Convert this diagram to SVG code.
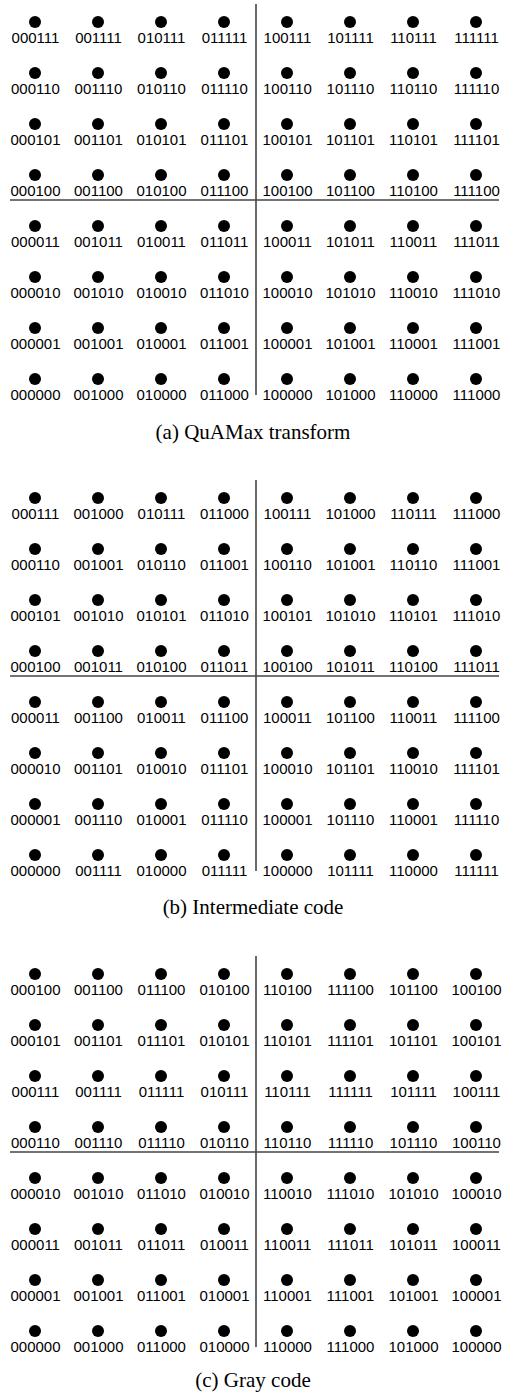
<svg xmlns="http://www.w3.org/2000/svg" width="505" height="1396" viewBox="0 0 505 1396">
<style>
.bg{fill:#fff}
circle{fill:#000}
.lbl{font-family:"Liberation Sans",Arial,sans-serif;font-size:15px;fill:#000;text-anchor:middle}
.cap{font-family:"Liberation Serif","Times New Roman",serif;font-size:21px;fill:#000;text-anchor:middle}
.ax{stroke:#444;stroke-width:1.6;fill:none}
</style>
<rect class="bg" x="0" y="0" width="505" height="1396"/>
<g id="panel-a">
<g id="axes-a" class="connectors"><line class="ax" x1="256" y1="4" x2="256" y2="395"/><line class="ax" x1="10" y1="200" x2="499" y2="200"/></g>
<g id="a-r0c0"><circle cx="35" cy="22" r="6"/><text class="lbl" x="35.5" y="43">000111</text></g>
<g id="a-r0c1"><circle cx="98" cy="22" r="6"/><text class="lbl" x="98.5" y="43">001111</text></g>
<g id="a-r0c2"><circle cx="161" cy="22" r="6"/><text class="lbl" x="161.5" y="43">010111</text></g>
<g id="a-r0c3"><circle cx="224" cy="22" r="6"/><text class="lbl" x="224.5" y="43">011111</text></g>
<g id="a-r0c4"><circle cx="287" cy="22" r="6"/><text class="lbl" x="287.5" y="43">100111</text></g>
<g id="a-r0c5"><circle cx="350" cy="22" r="6"/><text class="lbl" x="350.5" y="43">101111</text></g>
<g id="a-r0c6"><circle cx="413" cy="22" r="6"/><text class="lbl" x="413.5" y="43">110111</text></g>
<g id="a-r0c7"><circle cx="476" cy="22" r="6"/><text class="lbl" x="476.5" y="43">111111</text></g>
<g id="a-r1c0"><circle cx="35" cy="73" r="6"/><text class="lbl" x="35.5" y="94">000110</text></g>
<g id="a-r1c1"><circle cx="98" cy="73" r="6"/><text class="lbl" x="98.5" y="94">001110</text></g>
<g id="a-r1c2"><circle cx="161" cy="73" r="6"/><text class="lbl" x="161.5" y="94">010110</text></g>
<g id="a-r1c3"><circle cx="224" cy="73" r="6"/><text class="lbl" x="224.5" y="94">011110</text></g>
<g id="a-r1c4"><circle cx="287" cy="73" r="6"/><text class="lbl" x="287.5" y="94">100110</text></g>
<g id="a-r1c5"><circle cx="350" cy="73" r="6"/><text class="lbl" x="350.5" y="94">101110</text></g>
<g id="a-r1c6"><circle cx="413" cy="73" r="6"/><text class="lbl" x="413.5" y="94">110110</text></g>
<g id="a-r1c7"><circle cx="476" cy="73" r="6"/><text class="lbl" x="476.5" y="94">111110</text></g>
<g id="a-r2c0"><circle cx="35" cy="124" r="6"/><text class="lbl" x="35.5" y="145">000101</text></g>
<g id="a-r2c1"><circle cx="98" cy="124" r="6"/><text class="lbl" x="98.5" y="145">001101</text></g>
<g id="a-r2c2"><circle cx="161" cy="124" r="6"/><text class="lbl" x="161.5" y="145">010101</text></g>
<g id="a-r2c3"><circle cx="224" cy="124" r="6"/><text class="lbl" x="224.5" y="145">011101</text></g>
<g id="a-r2c4"><circle cx="287" cy="124" r="6"/><text class="lbl" x="287.5" y="145">100101</text></g>
<g id="a-r2c5"><circle cx="350" cy="124" r="6"/><text class="lbl" x="350.5" y="145">101101</text></g>
<g id="a-r2c6"><circle cx="413" cy="124" r="6"/><text class="lbl" x="413.5" y="145">110101</text></g>
<g id="a-r2c7"><circle cx="476" cy="124" r="6"/><text class="lbl" x="476.5" y="145">111101</text></g>
<g id="a-r3c0"><circle cx="35" cy="175" r="6"/><text class="lbl" x="35.5" y="196">000100</text></g>
<g id="a-r3c1"><circle cx="98" cy="175" r="6"/><text class="lbl" x="98.5" y="196">001100</text></g>
<g id="a-r3c2"><circle cx="161" cy="175" r="6"/><text class="lbl" x="161.5" y="196">010100</text></g>
<g id="a-r3c3"><circle cx="224" cy="175" r="6"/><text class="lbl" x="224.5" y="196">011100</text></g>
<g id="a-r3c4"><circle cx="287" cy="175" r="6"/><text class="lbl" x="287.5" y="196">100100</text></g>
<g id="a-r3c5"><circle cx="350" cy="175" r="6"/><text class="lbl" x="350.5" y="196">101100</text></g>
<g id="a-r3c6"><circle cx="413" cy="175" r="6"/><text class="lbl" x="413.5" y="196">110100</text></g>
<g id="a-r3c7"><circle cx="476" cy="175" r="6"/><text class="lbl" x="476.5" y="196">111100</text></g>
<g id="a-r4c0"><circle cx="35" cy="226" r="6"/><text class="lbl" x="35.5" y="247">000011</text></g>
<g id="a-r4c1"><circle cx="98" cy="226" r="6"/><text class="lbl" x="98.5" y="247">001011</text></g>
<g id="a-r4c2"><circle cx="161" cy="226" r="6"/><text class="lbl" x="161.5" y="247">010011</text></g>
<g id="a-r4c3"><circle cx="224" cy="226" r="6"/><text class="lbl" x="224.5" y="247">011011</text></g>
<g id="a-r4c4"><circle cx="287" cy="226" r="6"/><text class="lbl" x="287.5" y="247">100011</text></g>
<g id="a-r4c5"><circle cx="350" cy="226" r="6"/><text class="lbl" x="350.5" y="247">101011</text></g>
<g id="a-r4c6"><circle cx="413" cy="226" r="6"/><text class="lbl" x="413.5" y="247">110011</text></g>
<g id="a-r4c7"><circle cx="476" cy="226" r="6"/><text class="lbl" x="476.5" y="247">111011</text></g>
<g id="a-r5c0"><circle cx="35" cy="277" r="6"/><text class="lbl" x="35.5" y="298">000010</text></g>
<g id="a-r5c1"><circle cx="98" cy="277" r="6"/><text class="lbl" x="98.5" y="298">001010</text></g>
<g id="a-r5c2"><circle cx="161" cy="277" r="6"/><text class="lbl" x="161.5" y="298">010010</text></g>
<g id="a-r5c3"><circle cx="224" cy="277" r="6"/><text class="lbl" x="224.5" y="298">011010</text></g>
<g id="a-r5c4"><circle cx="287" cy="277" r="6"/><text class="lbl" x="287.5" y="298">100010</text></g>
<g id="a-r5c5"><circle cx="350" cy="277" r="6"/><text class="lbl" x="350.5" y="298">101010</text></g>
<g id="a-r5c6"><circle cx="413" cy="277" r="6"/><text class="lbl" x="413.5" y="298">110010</text></g>
<g id="a-r5c7"><circle cx="476" cy="277" r="6"/><text class="lbl" x="476.5" y="298">111010</text></g>
<g id="a-r6c0"><circle cx="35" cy="328" r="6"/><text class="lbl" x="35.5" y="349">000001</text></g>
<g id="a-r6c1"><circle cx="98" cy="328" r="6"/><text class="lbl" x="98.5" y="349">001001</text></g>
<g id="a-r6c2"><circle cx="161" cy="328" r="6"/><text class="lbl" x="161.5" y="349">010001</text></g>
<g id="a-r6c3"><circle cx="224" cy="328" r="6"/><text class="lbl" x="224.5" y="349">011001</text></g>
<g id="a-r6c4"><circle cx="287" cy="328" r="6"/><text class="lbl" x="287.5" y="349">100001</text></g>
<g id="a-r6c5"><circle cx="350" cy="328" r="6"/><text class="lbl" x="350.5" y="349">101001</text></g>
<g id="a-r6c6"><circle cx="413" cy="328" r="6"/><text class="lbl" x="413.5" y="349">110001</text></g>
<g id="a-r6c7"><circle cx="476" cy="328" r="6"/><text class="lbl" x="476.5" y="349">111001</text></g>
<g id="a-r7c0"><circle cx="35" cy="379" r="6"/><text class="lbl" x="35.5" y="400">000000</text></g>
<g id="a-r7c1"><circle cx="98" cy="379" r="6"/><text class="lbl" x="98.5" y="400">001000</text></g>
<g id="a-r7c2"><circle cx="161" cy="379" r="6"/><text class="lbl" x="161.5" y="400">010000</text></g>
<g id="a-r7c3"><circle cx="224" cy="379" r="6"/><text class="lbl" x="224.5" y="400">011000</text></g>
<g id="a-r7c4"><circle cx="287" cy="379" r="6"/><text class="lbl" x="287.5" y="400">100000</text></g>
<g id="a-r7c5"><circle cx="350" cy="379" r="6"/><text class="lbl" x="350.5" y="400">101000</text></g>
<g id="a-r7c6"><circle cx="413" cy="379" r="6"/><text class="lbl" x="413.5" y="400">110000</text></g>
<g id="a-r7c7"><circle cx="476" cy="379" r="6"/><text class="lbl" x="476.5" y="400">111000</text></g>
<text id="cap-a" class="cap" x="253" y="439">(a) QuAMax transform</text>
</g>
<g id="panel-b" transform="translate(0,476)">
<g id="axes-b" class="connectors"><line class="ax" x1="256" y1="4" x2="256" y2="395"/><line class="ax" x1="10" y1="200" x2="499" y2="200"/></g>
<g id="b-r0c0"><circle cx="35" cy="22" r="6"/><text class="lbl" x="35.5" y="43">000111</text></g>
<g id="b-r0c1"><circle cx="98" cy="22" r="6"/><text class="lbl" x="98.5" y="43">001000</text></g>
<g id="b-r0c2"><circle cx="161" cy="22" r="6"/><text class="lbl" x="161.5" y="43">010111</text></g>
<g id="b-r0c3"><circle cx="224" cy="22" r="6"/><text class="lbl" x="224.5" y="43">011000</text></g>
<g id="b-r0c4"><circle cx="287" cy="22" r="6"/><text class="lbl" x="287.5" y="43">100111</text></g>
<g id="b-r0c5"><circle cx="350" cy="22" r="6"/><text class="lbl" x="350.5" y="43">101000</text></g>
<g id="b-r0c6"><circle cx="413" cy="22" r="6"/><text class="lbl" x="413.5" y="43">110111</text></g>
<g id="b-r0c7"><circle cx="476" cy="22" r="6"/><text class="lbl" x="476.5" y="43">111000</text></g>
<g id="b-r1c0"><circle cx="35" cy="73" r="6"/><text class="lbl" x="35.5" y="94">000110</text></g>
<g id="b-r1c1"><circle cx="98" cy="73" r="6"/><text class="lbl" x="98.5" y="94">001001</text></g>
<g id="b-r1c2"><circle cx="161" cy="73" r="6"/><text class="lbl" x="161.5" y="94">010110</text></g>
<g id="b-r1c3"><circle cx="224" cy="73" r="6"/><text class="lbl" x="224.5" y="94">011001</text></g>
<g id="b-r1c4"><circle cx="287" cy="73" r="6"/><text class="lbl" x="287.5" y="94">100110</text></g>
<g id="b-r1c5"><circle cx="350" cy="73" r="6"/><text class="lbl" x="350.5" y="94">101001</text></g>
<g id="b-r1c6"><circle cx="413" cy="73" r="6"/><text class="lbl" x="413.5" y="94">110110</text></g>
<g id="b-r1c7"><circle cx="476" cy="73" r="6"/><text class="lbl" x="476.5" y="94">111001</text></g>
<g id="b-r2c0"><circle cx="35" cy="124" r="6"/><text class="lbl" x="35.5" y="145">000101</text></g>
<g id="b-r2c1"><circle cx="98" cy="124" r="6"/><text class="lbl" x="98.5" y="145">001010</text></g>
<g id="b-r2c2"><circle cx="161" cy="124" r="6"/><text class="lbl" x="161.5" y="145">010101</text></g>
<g id="b-r2c3"><circle cx="224" cy="124" r="6"/><text class="lbl" x="224.5" y="145">011010</text></g>
<g id="b-r2c4"><circle cx="287" cy="124" r="6"/><text class="lbl" x="287.5" y="145">100101</text></g>
<g id="b-r2c5"><circle cx="350" cy="124" r="6"/><text class="lbl" x="350.5" y="145">101010</text></g>
<g id="b-r2c6"><circle cx="413" cy="124" r="6"/><text class="lbl" x="413.5" y="145">110101</text></g>
<g id="b-r2c7"><circle cx="476" cy="124" r="6"/><text class="lbl" x="476.5" y="145">111010</text></g>
<g id="b-r3c0"><circle cx="35" cy="175" r="6"/><text class="lbl" x="35.5" y="196">000100</text></g>
<g id="b-r3c1"><circle cx="98" cy="175" r="6"/><text class="lbl" x="98.5" y="196">001011</text></g>
<g id="b-r3c2"><circle cx="161" cy="175" r="6"/><text class="lbl" x="161.5" y="196">010100</text></g>
<g id="b-r3c3"><circle cx="224" cy="175" r="6"/><text class="lbl" x="224.5" y="196">011011</text></g>
<g id="b-r3c4"><circle cx="287" cy="175" r="6"/><text class="lbl" x="287.5" y="196">100100</text></g>
<g id="b-r3c5"><circle cx="350" cy="175" r="6"/><text class="lbl" x="350.5" y="196">101011</text></g>
<g id="b-r3c6"><circle cx="413" cy="175" r="6"/><text class="lbl" x="413.5" y="196">110100</text></g>
<g id="b-r3c7"><circle cx="476" cy="175" r="6"/><text class="lbl" x="476.5" y="196">111011</text></g>
<g id="b-r4c0"><circle cx="35" cy="226" r="6"/><text class="lbl" x="35.5" y="247">000011</text></g>
<g id="b-r4c1"><circle cx="98" cy="226" r="6"/><text class="lbl" x="98.5" y="247">001100</text></g>
<g id="b-r4c2"><circle cx="161" cy="226" r="6"/><text class="lbl" x="161.5" y="247">010011</text></g>
<g id="b-r4c3"><circle cx="224" cy="226" r="6"/><text class="lbl" x="224.5" y="247">011100</text></g>
<g id="b-r4c4"><circle cx="287" cy="226" r="6"/><text class="lbl" x="287.5" y="247">100011</text></g>
<g id="b-r4c5"><circle cx="350" cy="226" r="6"/><text class="lbl" x="350.5" y="247">101100</text></g>
<g id="b-r4c6"><circle cx="413" cy="226" r="6"/><text class="lbl" x="413.5" y="247">110011</text></g>
<g id="b-r4c7"><circle cx="476" cy="226" r="6"/><text class="lbl" x="476.5" y="247">111100</text></g>
<g id="b-r5c0"><circle cx="35" cy="277" r="6"/><text class="lbl" x="35.5" y="298">000010</text></g>
<g id="b-r5c1"><circle cx="98" cy="277" r="6"/><text class="lbl" x="98.5" y="298">001101</text></g>
<g id="b-r5c2"><circle cx="161" cy="277" r="6"/><text class="lbl" x="161.5" y="298">010010</text></g>
<g id="b-r5c3"><circle cx="224" cy="277" r="6"/><text class="lbl" x="224.5" y="298">011101</text></g>
<g id="b-r5c4"><circle cx="287" cy="277" r="6"/><text class="lbl" x="287.5" y="298">100010</text></g>
<g id="b-r5c5"><circle cx="350" cy="277" r="6"/><text class="lbl" x="350.5" y="298">101101</text></g>
<g id="b-r5c6"><circle cx="413" cy="277" r="6"/><text class="lbl" x="413.5" y="298">110010</text></g>
<g id="b-r5c7"><circle cx="476" cy="277" r="6"/><text class="lbl" x="476.5" y="298">111101</text></g>
<g id="b-r6c0"><circle cx="35" cy="328" r="6"/><text class="lbl" x="35.5" y="349">000001</text></g>
<g id="b-r6c1"><circle cx="98" cy="328" r="6"/><text class="lbl" x="98.5" y="349">001110</text></g>
<g id="b-r6c2"><circle cx="161" cy="328" r="6"/><text class="lbl" x="161.5" y="349">010001</text></g>
<g id="b-r6c3"><circle cx="224" cy="328" r="6"/><text class="lbl" x="224.5" y="349">011110</text></g>
<g id="b-r6c4"><circle cx="287" cy="328" r="6"/><text class="lbl" x="287.5" y="349">100001</text></g>
<g id="b-r6c5"><circle cx="350" cy="328" r="6"/><text class="lbl" x="350.5" y="349">101110</text></g>
<g id="b-r6c6"><circle cx="413" cy="328" r="6"/><text class="lbl" x="413.5" y="349">110001</text></g>
<g id="b-r6c7"><circle cx="476" cy="328" r="6"/><text class="lbl" x="476.5" y="349">111110</text></g>
<g id="b-r7c0"><circle cx="35" cy="379" r="6"/><text class="lbl" x="35.5" y="400">000000</text></g>
<g id="b-r7c1"><circle cx="98" cy="379" r="6"/><text class="lbl" x="98.5" y="400">001111</text></g>
<g id="b-r7c2"><circle cx="161" cy="379" r="6"/><text class="lbl" x="161.5" y="400">010000</text></g>
<g id="b-r7c3"><circle cx="224" cy="379" r="6"/><text class="lbl" x="224.5" y="400">011111</text></g>
<g id="b-r7c4"><circle cx="287" cy="379" r="6"/><text class="lbl" x="287.5" y="400">100000</text></g>
<g id="b-r7c5"><circle cx="350" cy="379" r="6"/><text class="lbl" x="350.5" y="400">101111</text></g>
<g id="b-r7c6"><circle cx="413" cy="379" r="6"/><text class="lbl" x="413.5" y="400">110000</text></g>
<g id="b-r7c7"><circle cx="476" cy="379" r="6"/><text class="lbl" x="476.5" y="400">111111</text></g>
<text id="cap-b" class="cap" x="253" y="438">(b) Intermediate code</text>
</g>
<g id="panel-c" transform="translate(0,952)">
<g id="axes-c" class="connectors"><line class="ax" x1="256" y1="4" x2="256" y2="395"/><line class="ax" x1="10" y1="200" x2="499" y2="200"/></g>
<g id="c-r0c0"><circle cx="35" cy="22" r="6"/><text class="lbl" x="35.5" y="43">000100</text></g>
<g id="c-r0c1"><circle cx="98" cy="22" r="6"/><text class="lbl" x="98.5" y="43">001100</text></g>
<g id="c-r0c2"><circle cx="161" cy="22" r="6"/><text class="lbl" x="161.5" y="43">011100</text></g>
<g id="c-r0c3"><circle cx="224" cy="22" r="6"/><text class="lbl" x="224.5" y="43">010100</text></g>
<g id="c-r0c4"><circle cx="287" cy="22" r="6"/><text class="lbl" x="287.5" y="43">110100</text></g>
<g id="c-r0c5"><circle cx="350" cy="22" r="6"/><text class="lbl" x="350.5" y="43">111100</text></g>
<g id="c-r0c6"><circle cx="413" cy="22" r="6"/><text class="lbl" x="413.5" y="43">101100</text></g>
<g id="c-r0c7"><circle cx="476" cy="22" r="6"/><text class="lbl" x="476.5" y="43">100100</text></g>
<g id="c-r1c0"><circle cx="35" cy="73" r="6"/><text class="lbl" x="35.5" y="94">000101</text></g>
<g id="c-r1c1"><circle cx="98" cy="73" r="6"/><text class="lbl" x="98.5" y="94">001101</text></g>
<g id="c-r1c2"><circle cx="161" cy="73" r="6"/><text class="lbl" x="161.5" y="94">011101</text></g>
<g id="c-r1c3"><circle cx="224" cy="73" r="6"/><text class="lbl" x="224.5" y="94">010101</text></g>
<g id="c-r1c4"><circle cx="287" cy="73" r="6"/><text class="lbl" x="287.5" y="94">110101</text></g>
<g id="c-r1c5"><circle cx="350" cy="73" r="6"/><text class="lbl" x="350.5" y="94">111101</text></g>
<g id="c-r1c6"><circle cx="413" cy="73" r="6"/><text class="lbl" x="413.5" y="94">101101</text></g>
<g id="c-r1c7"><circle cx="476" cy="73" r="6"/><text class="lbl" x="476.5" y="94">100101</text></g>
<g id="c-r2c0"><circle cx="35" cy="124" r="6"/><text class="lbl" x="35.5" y="145">000111</text></g>
<g id="c-r2c1"><circle cx="98" cy="124" r="6"/><text class="lbl" x="98.5" y="145">001111</text></g>
<g id="c-r2c2"><circle cx="161" cy="124" r="6"/><text class="lbl" x="161.5" y="145">011111</text></g>
<g id="c-r2c3"><circle cx="224" cy="124" r="6"/><text class="lbl" x="224.5" y="145">010111</text></g>
<g id="c-r2c4"><circle cx="287" cy="124" r="6"/><text class="lbl" x="287.5" y="145">110111</text></g>
<g id="c-r2c5"><circle cx="350" cy="124" r="6"/><text class="lbl" x="350.5" y="145">111111</text></g>
<g id="c-r2c6"><circle cx="413" cy="124" r="6"/><text class="lbl" x="413.5" y="145">101111</text></g>
<g id="c-r2c7"><circle cx="476" cy="124" r="6"/><text class="lbl" x="476.5" y="145">100111</text></g>
<g id="c-r3c0"><circle cx="35" cy="175" r="6"/><text class="lbl" x="35.5" y="196">000110</text></g>
<g id="c-r3c1"><circle cx="98" cy="175" r="6"/><text class="lbl" x="98.5" y="196">001110</text></g>
<g id="c-r3c2"><circle cx="161" cy="175" r="6"/><text class="lbl" x="161.5" y="196">011110</text></g>
<g id="c-r3c3"><circle cx="224" cy="175" r="6"/><text class="lbl" x="224.5" y="196">010110</text></g>
<g id="c-r3c4"><circle cx="287" cy="175" r="6"/><text class="lbl" x="287.5" y="196">110110</text></g>
<g id="c-r3c5"><circle cx="350" cy="175" r="6"/><text class="lbl" x="350.5" y="196">111110</text></g>
<g id="c-r3c6"><circle cx="413" cy="175" r="6"/><text class="lbl" x="413.5" y="196">101110</text></g>
<g id="c-r3c7"><circle cx="476" cy="175" r="6"/><text class="lbl" x="476.5" y="196">100110</text></g>
<g id="c-r4c0"><circle cx="35" cy="226" r="6"/><text class="lbl" x="35.5" y="247">000010</text></g>
<g id="c-r4c1"><circle cx="98" cy="226" r="6"/><text class="lbl" x="98.5" y="247">001010</text></g>
<g id="c-r4c2"><circle cx="161" cy="226" r="6"/><text class="lbl" x="161.5" y="247">011010</text></g>
<g id="c-r4c3"><circle cx="224" cy="226" r="6"/><text class="lbl" x="224.5" y="247">010010</text></g>
<g id="c-r4c4"><circle cx="287" cy="226" r="6"/><text class="lbl" x="287.5" y="247">110010</text></g>
<g id="c-r4c5"><circle cx="350" cy="226" r="6"/><text class="lbl" x="350.5" y="247">111010</text></g>
<g id="c-r4c6"><circle cx="413" cy="226" r="6"/><text class="lbl" x="413.5" y="247">101010</text></g>
<g id="c-r4c7"><circle cx="476" cy="226" r="6"/><text class="lbl" x="476.5" y="247">100010</text></g>
<g id="c-r5c0"><circle cx="35" cy="277" r="6"/><text class="lbl" x="35.5" y="298">000011</text></g>
<g id="c-r5c1"><circle cx="98" cy="277" r="6"/><text class="lbl" x="98.5" y="298">001011</text></g>
<g id="c-r5c2"><circle cx="161" cy="277" r="6"/><text class="lbl" x="161.5" y="298">011011</text></g>
<g id="c-r5c3"><circle cx="224" cy="277" r="6"/><text class="lbl" x="224.5" y="298">010011</text></g>
<g id="c-r5c4"><circle cx="287" cy="277" r="6"/><text class="lbl" x="287.5" y="298">110011</text></g>
<g id="c-r5c5"><circle cx="350" cy="277" r="6"/><text class="lbl" x="350.5" y="298">111011</text></g>
<g id="c-r5c6"><circle cx="413" cy="277" r="6"/><text class="lbl" x="413.5" y="298">101011</text></g>
<g id="c-r5c7"><circle cx="476" cy="277" r="6"/><text class="lbl" x="476.5" y="298">100011</text></g>
<g id="c-r6c0"><circle cx="35" cy="328" r="6"/><text class="lbl" x="35.5" y="349">000001</text></g>
<g id="c-r6c1"><circle cx="98" cy="328" r="6"/><text class="lbl" x="98.5" y="349">001001</text></g>
<g id="c-r6c2"><circle cx="161" cy="328" r="6"/><text class="lbl" x="161.5" y="349">011001</text></g>
<g id="c-r6c3"><circle cx="224" cy="328" r="6"/><text class="lbl" x="224.5" y="349">010001</text></g>
<g id="c-r6c4"><circle cx="287" cy="328" r="6"/><text class="lbl" x="287.5" y="349">110001</text></g>
<g id="c-r6c5"><circle cx="350" cy="328" r="6"/><text class="lbl" x="350.5" y="349">111001</text></g>
<g id="c-r6c6"><circle cx="413" cy="328" r="6"/><text class="lbl" x="413.5" y="349">101001</text></g>
<g id="c-r6c7"><circle cx="476" cy="328" r="6"/><text class="lbl" x="476.5" y="349">100001</text></g>
<g id="c-r7c0"><circle cx="35" cy="379" r="6"/><text class="lbl" x="35.5" y="400">000000</text></g>
<g id="c-r7c1"><circle cx="98" cy="379" r="6"/><text class="lbl" x="98.5" y="400">001000</text></g>
<g id="c-r7c2"><circle cx="161" cy="379" r="6"/><text class="lbl" x="161.5" y="400">011000</text></g>
<g id="c-r7c3"><circle cx="224" cy="379" r="6"/><text class="lbl" x="224.5" y="400">010000</text></g>
<g id="c-r7c4"><circle cx="287" cy="379" r="6"/><text class="lbl" x="287.5" y="400">110000</text></g>
<g id="c-r7c5"><circle cx="350" cy="379" r="6"/><text class="lbl" x="350.5" y="400">111000</text></g>
<g id="c-r7c6"><circle cx="413" cy="379" r="6"/><text class="lbl" x="413.5" y="400">101000</text></g>
<g id="c-r7c7"><circle cx="476" cy="379" r="6"/><text class="lbl" x="476.5" y="400">100000</text></g>
<text id="cap-c" class="cap" x="253" y="435">(c) Gray code</text>
</g>
</svg>
